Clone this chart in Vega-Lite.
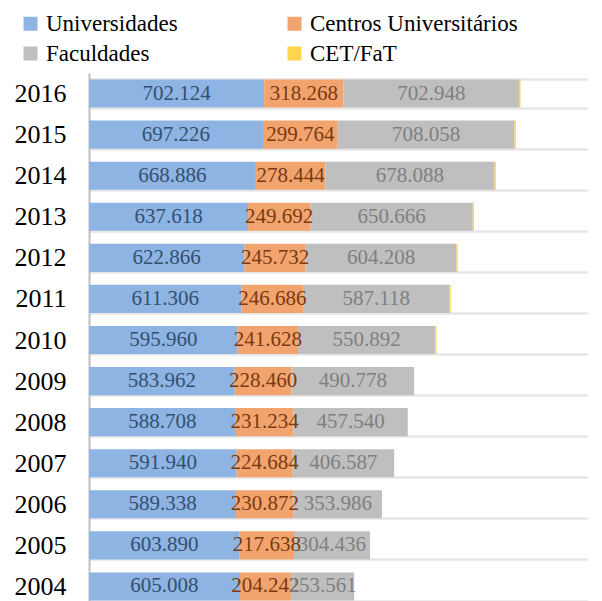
{
  "$schema": "https://vega.github.io/schema/vega-lite/v6.json",
  "width": 499,
  "height": 534,
  "autosize": {"type": "none"},
  "padding": {"left": 89, "top": 73, "right": 0, "bottom": 0},
  "background": "white",
  "config": {"view": {"stroke": null}, "font": "Liberation Serif"},
  "data": {
    "values": [
      {"ano": "2016", "tipo": "Universidades", "ordem": 1, "valor": 702.124},
      {"ano": "2016", "tipo": "Centros Universitários", "ordem": 2, "valor": 318.268},
      {"ano": "2016", "tipo": "Faculdades", "ordem": 3, "valor": 702.948},
      {"ano": "2016", "tipo": "CET/FaT", "ordem": 4, "valor": 6.0},
      {"ano": "2015", "tipo": "Universidades", "ordem": 1, "valor": 697.226},
      {"ano": "2015", "tipo": "Centros Universitários", "ordem": 2, "valor": 299.764},
      {"ano": "2015", "tipo": "Faculdades", "ordem": 3, "valor": 708.058},
      {"ano": "2015", "tipo": "CET/FaT", "ordem": 4, "valor": 6.0},
      {"ano": "2014", "tipo": "Universidades", "ordem": 1, "valor": 668.886},
      {"ano": "2014", "tipo": "Centros Universitários", "ordem": 2, "valor": 278.444},
      {"ano": "2014", "tipo": "Faculdades", "ordem": 3, "valor": 678.088},
      {"ano": "2014", "tipo": "CET/FaT", "ordem": 4, "valor": 5.5},
      {"ano": "2013", "tipo": "Universidades", "ordem": 1, "valor": 637.618},
      {"ano": "2013", "tipo": "Centros Universitários", "ordem": 2, "valor": 249.692},
      {"ano": "2013", "tipo": "Faculdades", "ordem": 3, "valor": 650.666},
      {"ano": "2013", "tipo": "CET/FaT", "ordem": 4, "valor": 5.5},
      {"ano": "2012", "tipo": "Universidades", "ordem": 1, "valor": 622.866},
      {"ano": "2012", "tipo": "Centros Universitários", "ordem": 2, "valor": 245.732},
      {"ano": "2012", "tipo": "Faculdades", "ordem": 3, "valor": 604.208},
      {"ano": "2012", "tipo": "CET/FaT", "ordem": 4, "valor": 5.0},
      {"ano": "2011", "tipo": "Universidades", "ordem": 1, "valor": 611.306},
      {"ano": "2011", "tipo": "Centros Universitários", "ordem": 2, "valor": 246.686},
      {"ano": "2011", "tipo": "Faculdades", "ordem": 3, "valor": 587.118},
      {"ano": "2011", "tipo": "CET/FaT", "ordem": 4, "valor": 5.0},
      {"ano": "2010", "tipo": "Universidades", "ordem": 1, "valor": 595.96},
      {"ano": "2010", "tipo": "Centros Universitários", "ordem": 2, "valor": 241.628},
      {"ano": "2010", "tipo": "Faculdades", "ordem": 3, "valor": 550.892},
      {"ano": "2010", "tipo": "CET/FaT", "ordem": 4, "valor": 4.5},
      {"ano": "2009", "tipo": "Universidades", "ordem": 1, "valor": 583.962},
      {"ano": "2009", "tipo": "Centros Universitários", "ordem": 2, "valor": 228.46},
      {"ano": "2009", "tipo": "Faculdades", "ordem": 3, "valor": 490.778},
      {"ano": "2008", "tipo": "Universidades", "ordem": 1, "valor": 588.708},
      {"ano": "2008", "tipo": "Centros Universitários", "ordem": 2, "valor": 231.234},
      {"ano": "2008", "tipo": "Faculdades", "ordem": 3, "valor": 457.54},
      {"ano": "2007", "tipo": "Universidades", "ordem": 1, "valor": 591.94},
      {"ano": "2007", "tipo": "Centros Universitários", "ordem": 2, "valor": 224.684},
      {"ano": "2007", "tipo": "Faculdades", "ordem": 3, "valor": 406.587},
      {"ano": "2006", "tipo": "Universidades", "ordem": 1, "valor": 589.338},
      {"ano": "2006", "tipo": "Centros Universitários", "ordem": 2, "valor": 230.872},
      {"ano": "2006", "tipo": "Faculdades", "ordem": 3, "valor": 353.986},
      {"ano": "2005", "tipo": "Universidades", "ordem": 1, "valor": 603.89},
      {"ano": "2005", "tipo": "Centros Universitários", "ordem": 2, "valor": 217.638},
      {"ano": "2005", "tipo": "Faculdades", "ordem": 3, "valor": 304.436},
      {"ano": "2004", "tipo": "Universidades", "ordem": 1, "valor": 605.008},
      {"ano": "2004", "tipo": "Centros Universitários", "ordem": 2, "valor": 204.242},
      {"ano": "2004", "tipo": "Faculdades", "ordem": 3, "valor": 253.561}
    ]
  },
  "encoding": {
    "y": {
      "field": "ano",
      "type": "nominal",
      "sort": "descending",
      "scale": {"paddingInner": 0.316, "paddingOuter": 0.158},
      "axis": {
        "title": null,
        "labelFont": "Liberation Serif",
        "labelFontSize": 26,
        "labelColor": "black",
        "labelPadding": 23,
        "ticks": false,
        "domainColor": "#BFBFBF",
        "domainWidth": 2,
        "grid": true,
        "tickBand": "extent",
        "gridColor": "#E6E6E6",
        "gridWidth": 2.5
      }
    },
    "order": {"field": "ordem", "type": "quantitative", "sort": "ascending"}
  },
  "layer": [
    {
      "mark": {"type": "bar"},
      "encoding": {
        "x": {
          "field": "valor",
          "type": "quantitative",
          "stack": "zero",
          "scale": {"domain": [0, 2000], "nice": false},
          "axis": null
        },
        "color": {
          "field": "tipo",
          "type": "nominal",
          "sort": ["Universidades", "Centros Universitários", "Faculdades", "CET/FaT"],
          "scale": {
            "domain": ["Universidades", "Centros Universitários", "Faculdades", "CET/FaT"],
            "range": ["#8EB4E3", "#F2A46F", "#BFBFBF", "#FFD54F"]
          },
          "legend": {
            "orient": "none",
            "legendX": -70,
            "legendY": -61,
            "title": null,
            "columns": 2,
            "direction": "horizontal",
            "symbolType": "square",
            "symbolSize": 196,
            "symbolStrokeWidth": 0,
            "labelFont": "Liberation Serif",
            "labelFontSize": 23,
            "labelColor": "black",
            "labelOffset": 4,
            "labelLimit": 400,
            "columnPadding": 105,
            "rowPadding": 6
          }
        }
      }
    },
    {
      "transform": [{"filter": "datum.tipo != 'CET/FaT'"}],
      "mark": {"type": "text", "font": "Liberation Serif", "fontSize": 21, "baseline": "middle"},
      "encoding": {
        "x": {"field": "valor", "type": "quantitative", "stack": "zero", "bandPosition": 0.5},
        "text": {"field": "valor", "type": "quantitative", "format": ".3f"},
        "color": {
          "field": "tipo",
          "type": "nominal",
          "scale": {
            "domain": ["Universidades", "Centros Universitários", "Faculdades", "CET/FaT"],
            "range": ["#34506F", "#7B3A10", "#808080", "#808080"]
          },
          "legend": null
        }
      }
    }
  ],
  "resolve": {"scale": {"color": "independent"}}
}
